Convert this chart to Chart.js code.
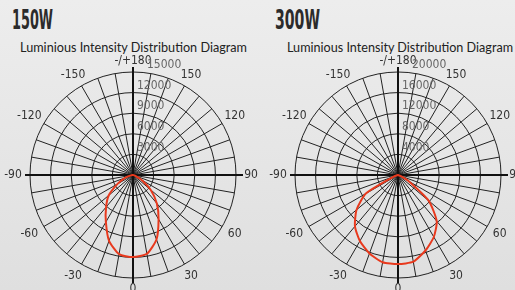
<!DOCTYPE html>
<html>
<head>
<meta charset="utf-8">
<script src="https://cdn.jsdelivr.net/npm/chart.js@4.4.0/dist/chart.umd.min.js"></script>
<style>
  html, body { margin: 0; padding: 0; }
  body { width: 515px; height: 290px; position: relative; overflow: hidden;
         background: linear-gradient(#ededed, #dfdfdf); }
  canvas { position: absolute; top: 0; }
  .watt { position: absolute; top: 5px; font: bold 26px "Liberation Sans Narrow", "DejaVu Sans Condensed", sans-serif;
          color: #2b2b2b; transform-origin: 0 0; white-space: nowrap; }
  .sub { position: absolute; top: 40px; font: 12.5px Lato, sans-serif; color: #222;
         transform-origin: 0 0; white-space: nowrap; }
</style>
</head>
<body>
<div class="watt" id="t1">150W</div>
<div class="watt" id="t2">300W</div>
<div class="sub" id="s1">Luminious Intensity Distribution Diagram</div>
<div class="sub" id="s2">Luminious Intensity Distribution Diagram</div>
<canvas id="c150" width="258" height="290" style="left:0"></canvas>
<canvas id="c300" width="257" height="290" style="left:258px"></canvas>
<script>
// angles clockwise from the top (-/+180), 0 at the bottom
const angles = [180, 170, 160, 150, 140, 130, 120, 110, 100, 90, 80, 70, 60, 50, 40, 30, 20, 10, 0,
  -10, -20, -30, -40, -50, -60, -70, -80, -90, -100, -110, -120, -130, -140, -150, -160, -170];

// candela values, same order as angles
const cd150 = [0, 0, 0, 0, 0, 0, 0, 0, 0, 0, 0, 300, 1450, 3350, 5400, 7450, 10000, 11650, 11950,
  11700, 10200, 7900, 6100, 4600, 2600, 1300, 300, 0, 0, 0, 0, 0, 0, 0, 0, 0];
const cd300 = [0, 0, 0, 0, 0, 0, 0, 0, 0, 0, 0, 500, 2400, 7800, 11700, 13900, 15600, 17100, 17300,
  17200, 16200, 14800, 13000, 10500, 7200, 800, 0, 0, 0, 0, 0, 0, 0, 0, 0, 0];

const max150 = 15000, step150 = 3000;
const max300 = 20000, step300 = 4000;

const narrow = '"Liberation Sans Narrow", "DejaVu Sans Condensed", sans-serif';

// axes cross, angle labels every 30 degrees and ring values
const polarDecor = {
  id: 'polarDecor',
  beforeDatasetsDraw(chart) {
    const r = chart.scales.r;
    const ctx = chart.ctx;
    const cx = r.xCenter, cy = r.yCenter, R = r.drawingArea;
    ctx.save();
    ctx.strokeStyle = '#111';
    ctx.lineWidth = 2;
    ctx.beginPath();
    ctx.moveTo(cx - R - 5, cy);
    ctx.lineTo(cx + R + 7, cy);
    ctx.moveTo(cx, cy - R - 5);
    ctx.lineTo(cx, cy + R + 5);
    ctx.stroke();

    ctx.font = '12px ' + narrow;
    ctx.fillStyle = '#333';
    ctx.textAlign = 'center';
    ctx.textBaseline = 'middle';
    chart.data.labels.forEach((lab, i) => {
      if (lab % 30 !== 0) return;
      const a = lab * Math.PI / 180;
      const p = r.getPointPosition(i, R + 11 + 4 * Math.abs(Math.sin(a)));
      const txt = lab === 180 ? '-/+180' : String(lab);
      ctx.fillText(txt, p.x - (lab < 0 ? 2 : 0), p.y);
    });

    ctx.fillStyle = '#666';
    ctx.textAlign = 'left';
    r.ticks.forEach(t => {
      if (t.value === 0) return;
      const d = r.getDistanceFromCenterForValue(t.value);
      const x = t.value === r.max ? cx + 14 : cx + 4;
      ctx.fillText(String(t.value), x, cy - d - 7);
    });
    ctx.restore();
  }
};

function makeChart(id, values, max, step, pad) {
  return new Chart(document.getElementById(id), {
    type: 'radar',
    data: {
      labels: angles,
      datasets: [{
        data: values,
        borderColor: '#e8391d',
        backgroundColor: 'transparent',
        borderWidth: 2,
        pointRadius: 0,
        fill: false,
        tension: 0.2
      }]
    },
    options: {
      responsive: false,
      animation: false,
      layout: { padding: pad },
      plugins: { legend: { display: false }, tooltip: { enabled: false } },
      scales: {
        r: {
          min: 0,
          max: max,
          startAngle: 0,
          ticks: { display: false, stepSize: step },
          grid: { circular: true, color: '#222', lineWidth: 1 },
          angleLines: { color: '#222', lineWidth: 1 },
          pointLabels: { display: false }
        }
      }
    },
    plugins: [polarDecor]
  });
}

makeChart('c150', cd150, max150, step150, { left: 30, right: 22, top: 72, bottom: 12 });
makeChart('c300', cd300, max300, step300, { left: 37, right: 14, top: 72, bottom: 12 });

function fitText(id, left, width) {
  const el = document.getElementById(id);
  const w = el.getBoundingClientRect().width;
  el.style.left = left + 'px';
  el.style.transform = 'scaleX(' + (width / w) + ')';
}
fitText('t1', 12, 41);
fitText('t2', 275, 45);
fitText('s1', 20, 227);
fitText('s2', 287, 226);
</script>
</body>
</html>
